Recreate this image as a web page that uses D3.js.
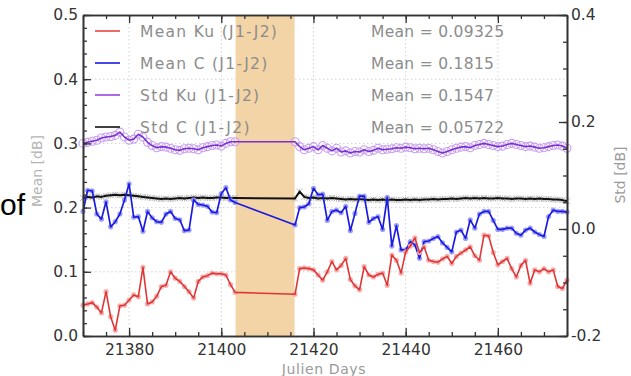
<!DOCTYPE html>
<html><head><meta charset="utf-8">
<script src="https://cdn.jsdelivr.net/npm/d3@7"></script>
<style>body{margin:0;background:#fff}svg{display:block}</style></head>
<body>
<script>
// ---- data ----
const days = [21370,21371,21372,21373,21374,21375,21376,21377,21378,21379,
21380,21381,21382,21383,21384,21385,21386,21387,21388,21389,
21390,21391,21392,21393,21394,21395,21396,21397,21398,21399,
21400,21401,21402,21403,
21416,21417,21418,21419,21420,21421,21422,21423,21424,21425,
21426,21427,21428,21429,21430,21431,21432,21433,21434,21435,
21436,21437,21438,21439,21440,21441,21442,21443,21444,21445,
21446,21447,21448,21449,21450,21451,21452,21453,21454,21455,
21456,21457,21458,21459,21460,21461,21462,21463,21464,21465,
21466,21467,21468,21469,21470,21471,21472,21473,21474,21475];

const meanKu = [0.048,0.050,0.052,0.045,0.036,0.069,0.030,0.009,0.047,0.048,
0.056,0.064,0.061,0.107,0.050,0.053,0.062,0.077,0.079,0.100,
0.090,0.085,0.077,0.069,0.059,0.085,0.092,0.094,0.098,0.097,
0.097,0.095,0.080,0.068,
0.065,0.105,0.106,0.105,0.103,0.095,0.087,0.100,0.116,0.103,
0.110,0.121,0.088,0.078,0.072,0.108,0.095,0.092,0.096,0.098,
0.079,0.126,0.118,0.098,0.131,0.140,0.153,0.130,0.139,0.118,
0.116,0.115,0.120,0.124,0.113,0.124,0.129,0.134,0.139,0.125,
0.118,0.157,0.156,0.130,0.111,0.116,0.121,0.105,0.092,0.110,
0.118,0.082,0.103,0.100,0.105,0.100,0.103,0.077,0.074,0.087];

const meanC = [0.194,0.227,0.226,0.190,0.182,0.209,0.170,0.178,0.190,0.212,
0.237,0.185,0.186,0.163,0.194,0.184,0.178,0.177,0.190,0.194,
0.183,0.181,0.164,0.165,0.212,0.205,0.204,0.202,0.193,0.192,
0.222,0.231,0.212,0.208,
0.173,0.200,0.201,0.206,0.230,0.220,0.221,0.180,0.194,0.196,
0.192,0.202,0.164,0.191,0.218,0.218,0.177,0.183,0.186,0.166,
0.216,0.140,0.172,0.134,0.134,0.147,0.142,0.121,0.147,0.148,
0.152,0.155,0.145,0.138,0.131,0.162,0.165,0.152,0.181,0.168,
0.190,0.194,0.194,0.180,0.166,0.166,0.168,0.168,0.160,0.157,
0.165,0.168,0.162,0.158,0.155,0.186,0.196,0.194,0.194,0.193];

const stdKu = [0.160,0.162,0.164,0.166,0.170,0.172,0.173,0.175,0.181,0.172,
0.166,0.168,0.177,0.172,0.162,0.156,0.152,0.154,0.153,0.151,
0.148,0.147,0.150,0.151,0.150,0.148,0.152,0.154,0.156,0.157,
0.155,0.160,0.163,0.163,
0.163,0.154,0.148,0.151,0.154,0.148,0.156,0.151,0.146,0.151,
0.144,0.146,0.142,0.145,0.144,0.148,0.145,0.147,0.151,0.148,
0.149,0.150,0.152,0.151,0.153,0.152,0.150,0.151,0.150,0.151,
0.148,0.145,0.142,0.145,0.148,0.151,0.153,0.154,0.152,0.156,
0.158,0.160,0.158,0.156,0.154,0.155,0.158,0.160,0.158,0.156,
0.154,0.155,0.153,0.151,0.152,0.154,0.156,0.157,0.155,0.151];

const stdC = [0.058,0.060,0.059,0.061,0.060,0.062,0.063,0.064,0.063,0.064,
0.063,0.062,0.061,0.060,0.059,0.058,0.057,0.056,0.057,0.056,
0.057,0.058,0.057,0.058,0.059,0.058,0.059,0.058,0.058,0.059,
0.059,0.058,0.058,0.058,
0.057,0.070,0.060,0.058,0.059,0.057,0.058,0.057,0.058,0.057,
0.056,0.055,0.056,0.055,0.056,0.055,0.054,0.055,0.054,0.055,
0.054,0.055,0.054,0.054,0.055,0.054,0.055,0.054,0.055,0.055,
0.056,0.055,0.056,0.056,0.057,0.056,0.057,0.058,0.057,0.058,
0.057,0.058,0.057,0.057,0.058,0.057,0.057,0.056,0.057,0.057,
0.056,0.057,0.056,0.057,0.056,0.056,0.055,0.055,0.054,0.052];

const band = [21403.1, 21415.9];
const legendLabels = ["Mean Ku (J1-J2)", "Mean C (J1-J2)", "Std Ku (J1-J2)", "Std C (J1-J2)"];
const meanLabels = ["Mean = 0.09325", "Mean = 0.1815", "Mean = 0.1547", "Mean = 0.05722"];
const xTicks = [21380, 21400, 21420, 21440, 21460];
const yLeftTicks = [0.0, 0.1, 0.2, 0.3, 0.4, 0.5];
const yRightTicks = [-0.2, 0.0, 0.2, 0.4];

// ---- chart ----
const W = 631, H = 376;
const L = 83, R = 567, T = 15, B = 336;
const svg = d3.select("body").append("svg").attr("width", W).attr("height", H)
  .style("font-family", "'DejaVu Sans', sans-serif");

const x = d3.scaleLinear().domain([21370, 21475]).range([L, R]);
const yL = d3.scaleLinear().domain([0, 0.5]).range([B, T]);
const yR = d3.scaleLinear().domain([-0.2, 0.4]).range([B, T]);

// stray text at left edge
svg.append("text").attr("x", 0).attr("y", 215).attr("font-family", "'Liberation Sans', Arial, sans-serif")
  .attr("font-size", 30).attr("fill", "#000").text("of");

// grid
const grid = svg.append("g").attr("stroke", "#c8c8c8").attr("stroke-width", 0.8).attr("stroke-dasharray", "1.5,2.5");
grid.selectAll("line.v").data(xTicks).join("line")
  .attr("x1", d => x(d)).attr("x2", d => x(d)).attr("y1", T).attr("y2", B);
grid.selectAll("line.h").data(yLeftTicks.filter(d => d > 0 && d < 0.5)).join("line")
  .attr("x1", L).attr("x2", R).attr("y1", d => yL(d)).attr("y2", d => yL(d));

// band
svg.append("rect").attr("x", x(band[0])).attr("y", T).attr("width", x(band[1]) - x(band[0]))
  .attr("height", B - T).attr("fill", "#f3d4a6");

// series
const pts = arr => days.map((d, i) => [d, arr[i]]);
function series(arr, ys, lineColor, lw, mk) {
  const data = pts(arr);
  const g = svg.append("g");
  if (mk.type === "circle") {
    g.selectAll("circle").data(data).join("circle")
      .attr("cx", d => x(d[0])).attr("cy", d => ys(d[1])).attr("r", mk.r)
      .attr("fill", mk.fill).attr("stroke", mk.stroke).attr("stroke-width", mk.sw || 1)
      .attr("opacity", mk.op || 1);
  } else {
    g.selectAll("path").data(data).join("path")
      .attr("d", d => {
        const cx = x(d[0]), cy = ys(d[1]), s = 3;
        return `M${cx - s},${cy - s}L${cx + s},${cy + s}M${cx - s},${cy + s}L${cx + s},${cy - s}M${cx},${cy - s}L${cx},${cy + s}`;
      })
      .attr("stroke", mk.stroke).attr("stroke-width", 0.8).attr("fill", "none");
  }
  g.append("path").datum(data)
    .attr("d", d3.line().x(d => x(d[0])).y(d => ys(d[1])))
    .attr("fill", "none").attr("stroke", lineColor).attr("stroke-width", lw)
    .attr("stroke-linejoin", "round");
}
series(stdKu, yR, "#7a2fd0", 1.6, {type: "circle", r: 4, fill: "none", stroke: "#c79ef0", sw: 1.1});
series(stdC, yR, "#111111", 2, {type: "x", stroke: "#a8a8a8"});
series(meanC, yL, "#1a1ae0", 1.7, {type: "circle", r: 2.6, fill: "#8f8ff5", stroke: "none", op: 0.85});
series(meanKu, yL, "#e03535", 1.6, {type: "circle", r: 2.6, fill: "#f4a5a5", stroke: "none", op: 0.9});

// axes
const axColor = "#333";
function style(g, fs) {
  g.selectAll(".domain").attr("stroke", axColor).attr("stroke-width", 1.6);
  g.selectAll(".tick line").attr("stroke", axColor).attr("stroke-width", 1.3);
  g.selectAll("text").attr("font-size", fs).attr("fill", "#333").attr("font-family", "'DejaVu Sans', sans-serif");
}
const minorX = d3.range(21370, 21476, 5);
const minorL = d3.range(0, 0.501, 0.02);
const minorR = d3.range(-0.2, 0.401, 0.05);

const gB = svg.append("g").attr("transform", `translate(0,${B})`)
  .call(d3.axisBottom(x).tickValues(xTicks).tickFormat(d3.format("d")).tickSizeInner(-8).tickSizeOuter(0).tickPadding(8));
style(gB, 15.5);
svg.append("g").attr("transform", `translate(0,${B})`)
  .call(d3.axisBottom(x).tickValues(minorX).tickFormat("").tickSizeInner(-4).tickSizeOuter(0)).call(g => style(g, 0));

const gT = svg.append("g").attr("transform", `translate(0,${T})`)
  .call(d3.axisTop(x).tickValues(xTicks).tickFormat("").tickSizeInner(-8).tickSizeOuter(0));
style(gT, 0);
svg.append("g").attr("transform", `translate(0,${T})`)
  .call(d3.axisTop(x).tickValues(minorX).tickFormat("").tickSizeInner(-4).tickSizeOuter(0)).call(g => style(g, 0));

const gL = svg.append("g").attr("transform", `translate(${L},0)`)
  .call(d3.axisLeft(yL).tickValues(yLeftTicks).tickFormat(d3.format(".1f")).tickSizeInner(-8).tickSizeOuter(0).tickPadding(5));
style(gL, 15.5);
svg.append("g").attr("transform", `translate(${L},0)`)
  .call(d3.axisLeft(yL).tickValues(minorL).tickFormat("").tickSizeInner(-4).tickSizeOuter(0)).call(g => style(g, 0));

const gR = svg.append("g").attr("transform", `translate(${R},0)`)
  .call(d3.axisRight(yR).tickValues(yRightTicks).tickFormat(d => d3.format(".1f")(d).replace("−", "-")).tickSizeInner(-8).tickSizeOuter(0).tickPadding(4));
style(gR, 15.5);
svg.append("g").attr("transform", `translate(${R},0)`)
  .call(d3.axisRight(yR).tickValues(minorR).tickFormat("").tickSizeInner(-4).tickSizeOuter(0)).call(g => style(g, 0));

// axis titles
svg.append("text").attr("transform", "translate(42,171) rotate(-90)").attr("text-anchor", "middle")
  .attr("font-size", 14).attr("fill", "#b5b5b5").text("Mean [dB]");
svg.append("text").attr("transform", "translate(625,175) rotate(-90)").attr("text-anchor", "middle")
  .attr("font-size", 14).attr("fill", "#9a9a9a").text("Std [dB]");
svg.append("text").attr("x", 324).attr("y", 374).attr("text-anchor", "middle")
  .attr("font-size", 14).attr("letter-spacing", 0.6).attr("fill", "#999").text("Julien Days");

// legend
const legColors = ["#e84545", "#1a1ae0", "#9a45e0", "#111"];
const legY = [31, 63, 95, 127];
const lg = svg.append("g");
legendLabels.forEach((t, i) => {
  lg.append("line").attr("x1", 95).attr("x2", 120).attr("y1", legY[i]).attr("y2", legY[i])
    .attr("stroke", legColors[i]).attr("stroke-width", 1.6);
  lg.append("text").attr("x", 140).attr("y", legY[i] + 5.5).attr("font-size", 15.5)
    .attr("letter-spacing", 1.3).attr("fill", "#8c8c8c").text(t);
  lg.append("text").attr("x", 371).attr("y", legY[i] + 5.5).attr("font-size", 15.5)
    .attr("letter-spacing", 0.3).attr("fill", "#8c8c8c").text(meanLabels[i]);
});
</script>
</body></html>
